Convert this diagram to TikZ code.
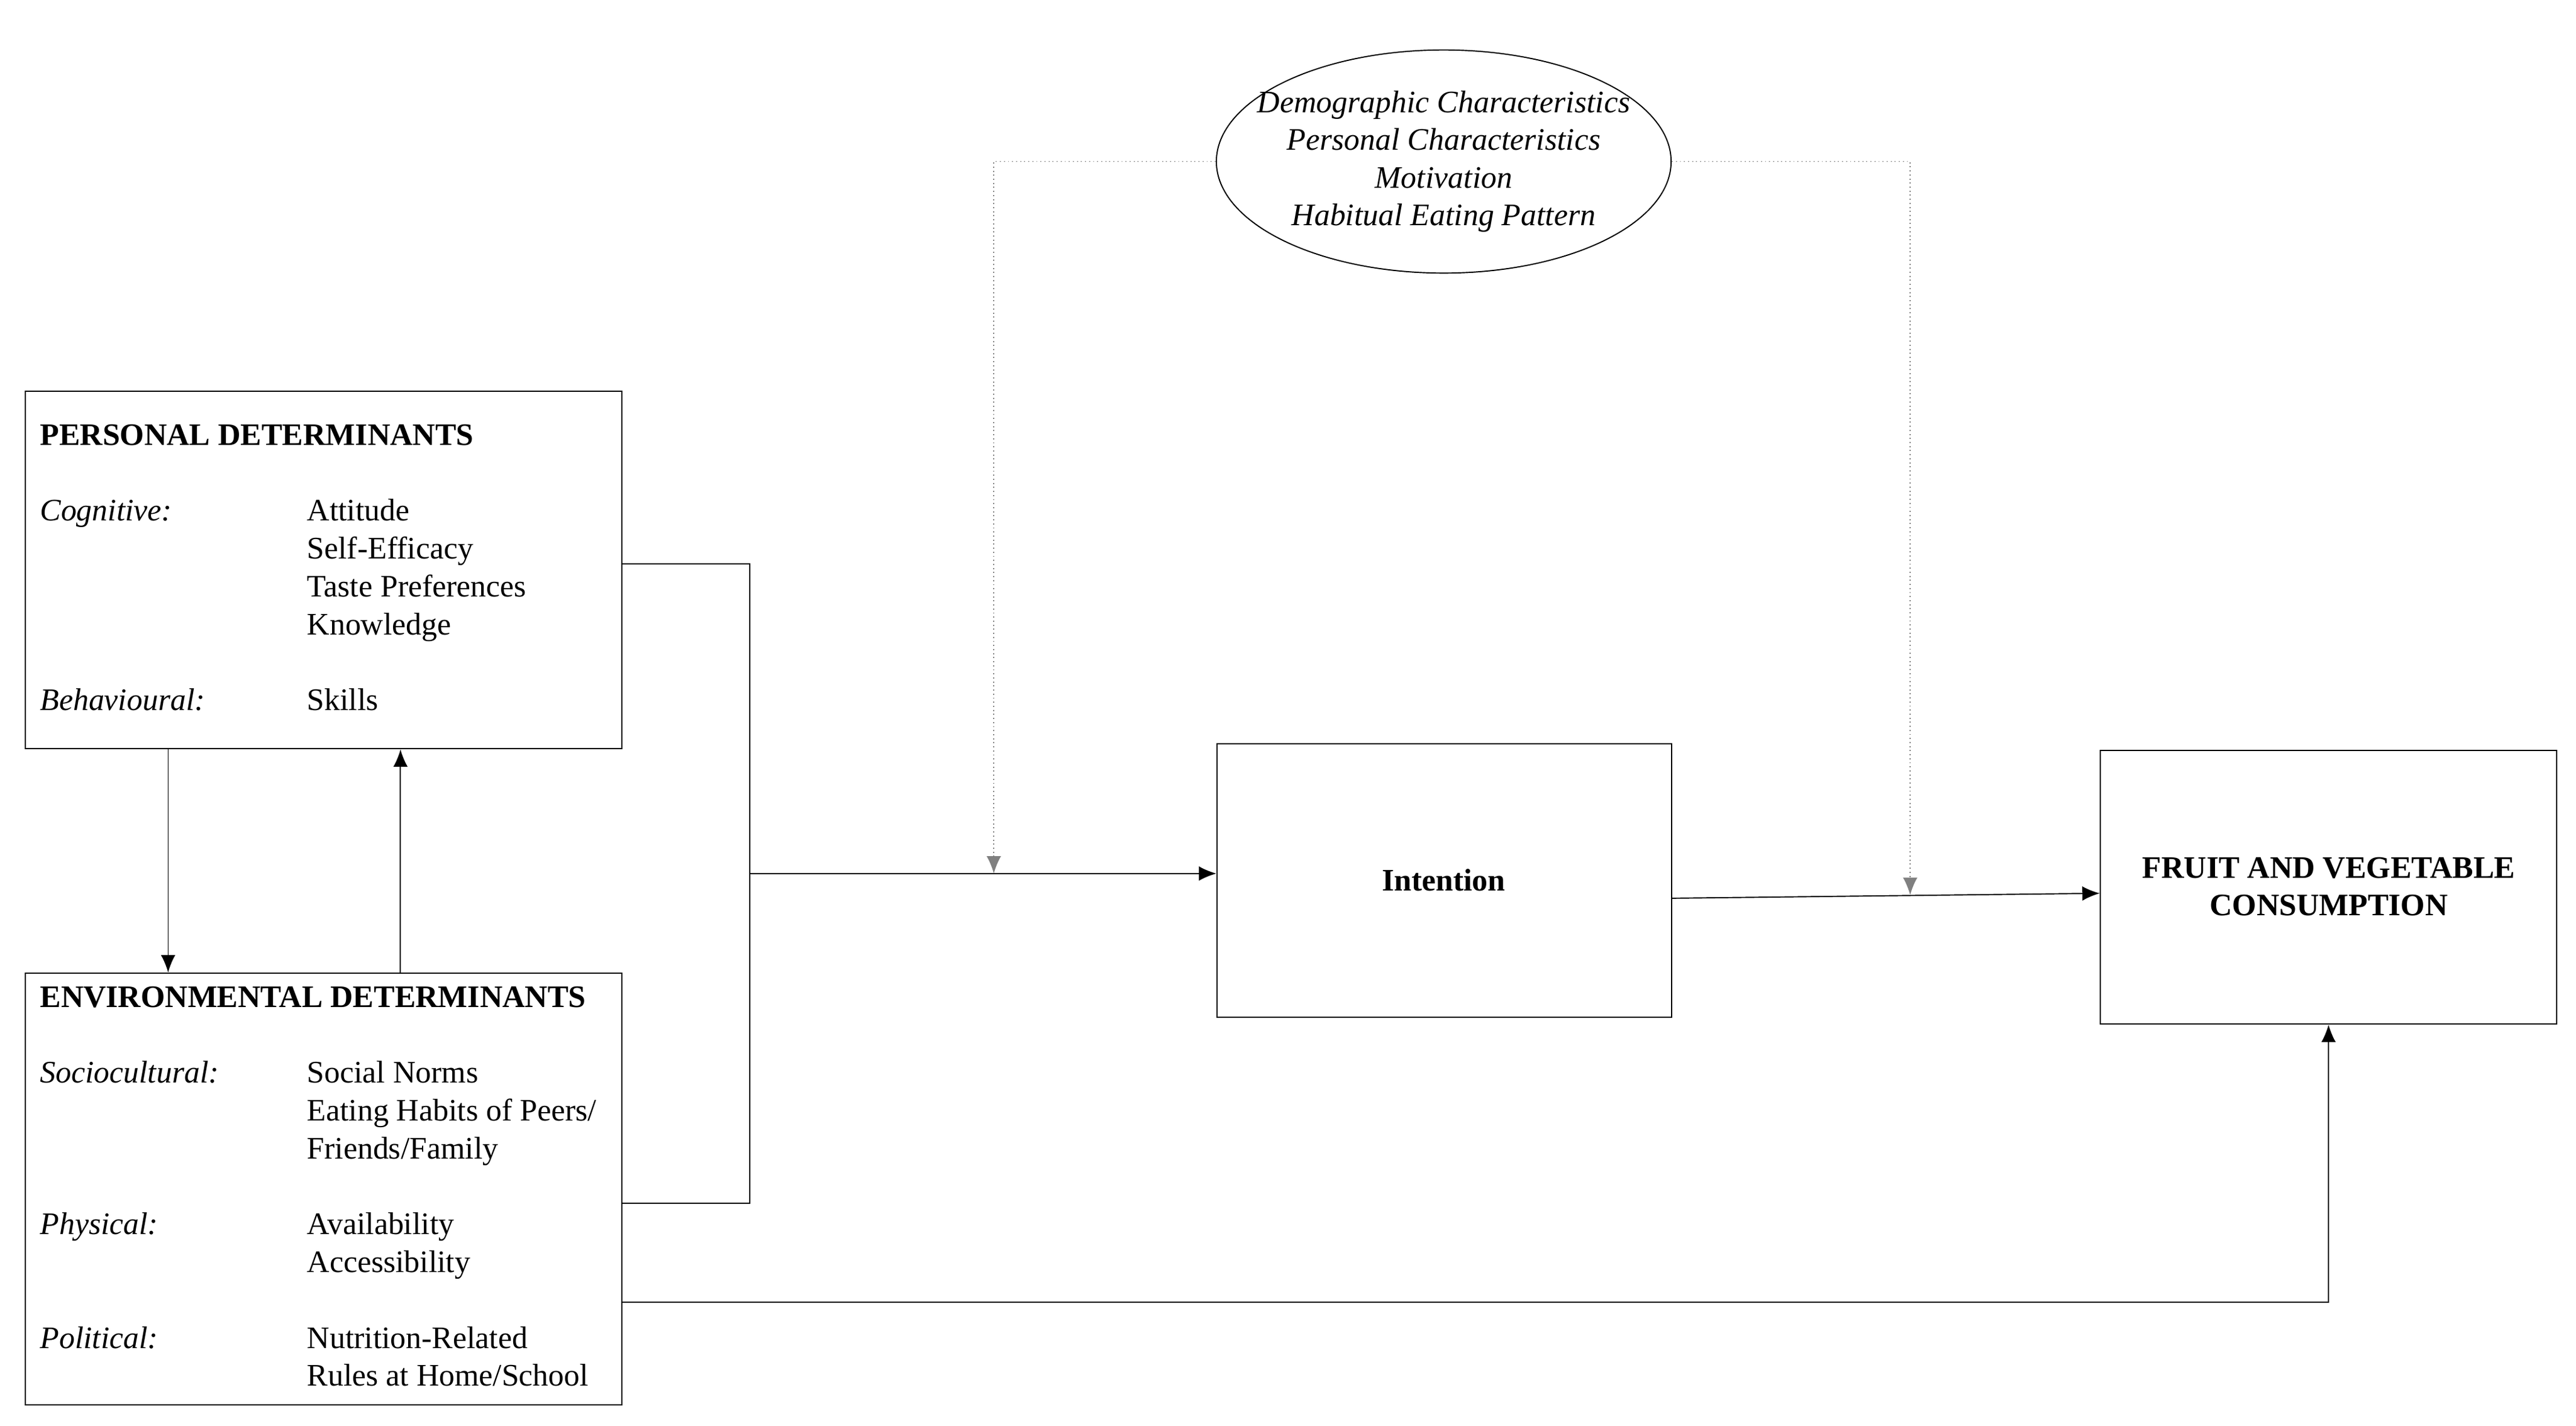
\documentclass[tikz,border=0pt]{standalone}
\usepackage{fontspec}
\setmainfont{Liberation Serif}
\usetikzlibrary{arrows.meta,shapes.geometric,calc}
\tikzset{
  detbox/.style={draw, rectangle, anchor=north west, inner sep=0pt},
  dettext/.style={anchor=base west, inner sep=0pt, font=\fontsize{10.8}{13}\selectfont},
  detlink/.style={thin,-{Latex[length=6pt,width=5pt]}},
  detmod/.style={thin,densely dotted,-{Latex[length=6pt,width=5pt]}}
}
\begin{document}
\begin{tikzpicture}[x=0.02cm,y=-0.02cm]
    \useasboundingbox (0,0) rectangle (1563,865);
    % boxes
    \node[detbox, minimum width=362*0.02cm, minimum height=217*0.02cm] (pd) at (15,237) {};
    \node[detbox, minimum width=362*0.02cm, minimum height=262*0.02cm] (ed) at (15,590) {};
    \node[detbox, minimum width=276*0.02cm, minimum height=166*0.02cm] (in) at (738,451) {};
    \node[font=\bfseries\fontsize{10.8}{13}\selectfont] (inl) at (876,534) {Intention};
    \node[detbox, minimum width=277*0.02cm, minimum height=166*0.02cm] (fv) at (1274,455) {};
    \node[align=center, font=\bfseries\fontsize{10.8}{13}\selectfont] (fvl) at (1413,538) {FRUIT AND VEGETABLE\\CONSUMPTION};
    \node[draw, ellipse, align=center, font=\itshape\fontsize{10.8}{13}\selectfont,
          inner xsep=-0.31cm, inner ysep=0.1cm] (mo) at (876,98)
          {Demographic Characteristics\\Personal Characteristics\\Motivation\\Habitual Eating Pattern};

    % personal determinants
    \node[dettext, font=\bfseries\fontsize{10.8}{13}\selectfont] (pt) at (24,270) {PERSONAL DETERMINANTS};
    \node[dettext, font=\itshape\fontsize{10.8}{13}\selectfont] (pc) at (24,316) {Cognitive:};
    \node[dettext] (p1) at (186,316) {Attitude};
    \node[dettext] (p2) at (186,339) {Self-Efficacy};
    \node[dettext] (p3) at (186,362) {Taste Preferences};
    \node[dettext] (p4) at (186,385) {Knowledge};
    \node[dettext, font=\itshape\fontsize{10.8}{13}\selectfont] (pb) at (24,431) {Behavioural:};
    \node[dettext] (p5) at (186,431) {Skills};

    % environmental determinants
    \node[dettext, font=\bfseries\fontsize{10.8}{13}\selectfont] (et) at (24,611) {ENVIRONMENTAL DETERMINANTS};
    \node[dettext, font=\itshape\fontsize{10.8}{13}\selectfont] (es) at (24,657) {Sociocultural:};
    \node[dettext] (e1) at (186,657) {Social Norms};
    \node[dettext] (e2) at (186,680) {Eating Habits of Peers/};
    \node[dettext] (e3) at (186,703) {Friends/Family};
    \node[dettext, font=\itshape\fontsize{10.8}{13}\selectfont] (ep) at (24,749) {Physical:};
    \node[dettext] (e4) at (186,749) {Availability};
    \node[dettext] (e5) at (186,772) {Accessibility};
    \node[dettext, font=\itshape\fontsize{10.8}{13}\selectfont] (eo) at (24,818) {Political:};
    \node[dettext] (e6) at (186,818) {Nutrition-Related};
    \node[dettext] (e7) at (186,841) {Rules at Home/School};

    % connectors
    \coordinate (jn) at (455,530);
    \coordinate (dl) at (603,530);
    \coordinate (dr) at (1159,543);
    \draw[thin] (pd.east |- 0,342) -- (455,342) -- (455,730) -- (ed.east |- 0,730);
    \draw[detlink] (jn) -- (in.west |- jn);
    \draw[detlink] (in.east |- 0,545) -- (fv.west |- 0,542);
    \draw[detlink] (ed.east |- 0,790) -- (fv.south |- 0,790) -- (fv.south);
    \draw[detlink] ($(pd.south west)+(87,0)$) -- ($(ed.north west)+(87,0)$);
    \draw[detlink] ($(ed.north west)+(228,0)$) -- ($(pd.south west)+(228,0)$);
    \draw[detmod, gray] (mo.west) -- (603,98) -- (dl);
    \draw[detmod, gray] (mo.east) -- (1159,98) -- (dr);
\end{tikzpicture}
\end{document}
